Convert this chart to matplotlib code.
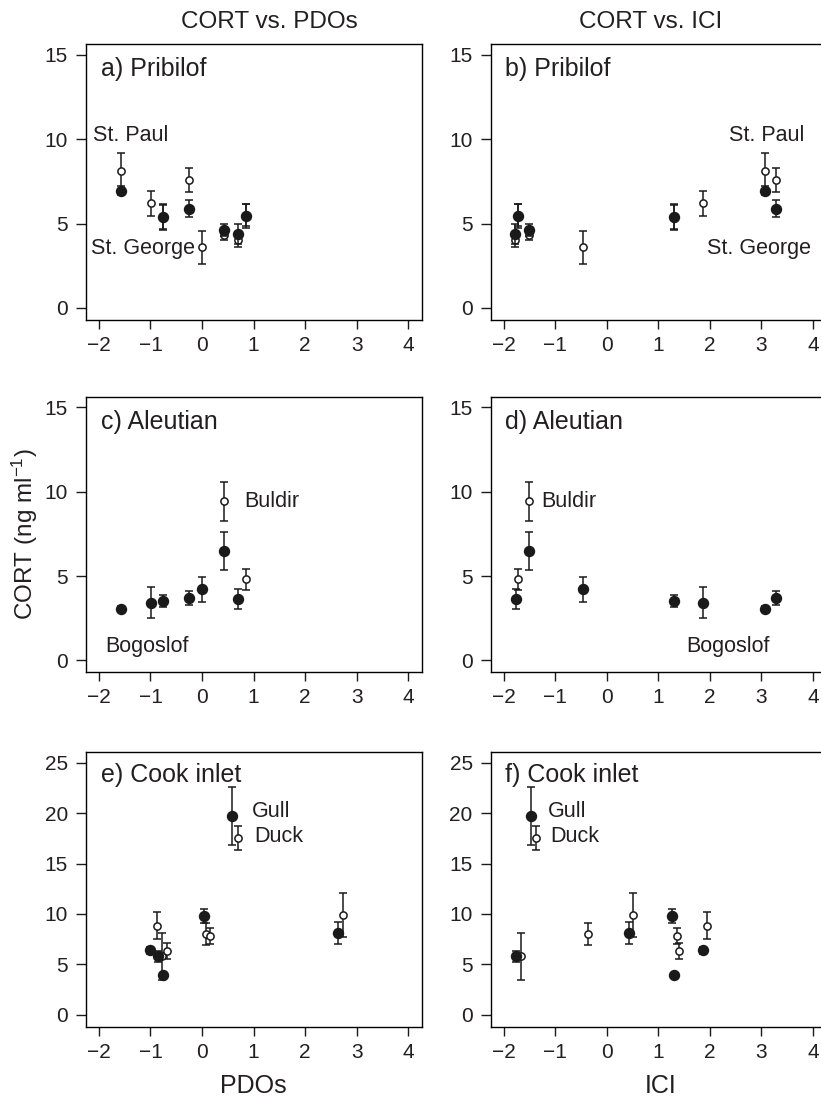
import matplotlib as mpl
mpl.use('Agg')

import matplotlib.pyplot as plt

plt.rcParams['font.family'] = ['Liberation Sans', 'DejaVu Sans']
plt.rcParams['mathtext.default'] = 'regular'
plt.rcParams['axes.linewidth'] = 1.0
plt.rcParams['text.color'] = '#231f20'

# Pribilof: open = St. Paul, filled = St. George
paul_pdo = [-1.58, -0.98, -0.765, -0.25, 0.0, 0.43, 0.69, 0.845]
paul_ici = [3.08, 1.86, 1.31, 3.29, -0.45, -1.5, -1.77, -1.72]
paul_cort = [8.13, 6.2, 5.35, 7.58, 3.6, 4.31, 4.04, 5.5]
paul_se = [1.06, 0.75, 0.75, 0.74, 0.98, 0.3, 0.45, 0.65]

george_pdo = [-1.58, -0.765, -0.25, 0.43, 0.69, 0.845]
george_ici = [3.08, 1.31, 3.29, -1.5, -1.77, -1.72]
george_cort = [6.95, 5.41, 5.89, 4.63, 4.39, 5.45]
george_se = [0.27, 0.73, 0.53, 0.37, 0.6, 0.71]

# Aleutian: open = Buldir, filled = Bogoslof
buldir_pdo = [0.43, 0.845]
buldir_ici = [-1.5, -1.72]
buldir_cort = [9.43, 4.82]
buldir_se = [1.15, 0.62]

bogo_pdo = [-1.58, -0.98, -0.765, -0.25, 0.0, 0.43, 0.69]
bogo_ici = [3.08, 1.86, 1.31, 3.29, -0.46, -1.5, -1.76]
bogo_cort = [3.07, 3.43, 3.52, 3.72, 4.21, 6.48, 3.62]
bogo_se = [0.15, 0.9, 0.37, 0.42, 0.74, 1.13, 0.6]

# Cook inlet: open = Duck, filled = Gull
duck_pdo = [-0.88, -0.77, -0.67, 0.07, 0.15, 0.69, 2.73]
duck_ici = [1.95, -1.66, 1.41, -0.37, 1.37, -1.37, 0.52]
duck_cort = [8.85, 5.8, 6.32, 8.03, 7.8, 17.5, 9.87]
duck_se = [1.3, 2.3, 0.78, 1.07, 0.77, 1.2, 2.2]

gull_pdo = [-1.0, -0.86, -0.765, 0.04, 0.59, 2.63]
gull_ici = [1.86, -1.76, 1.31, 1.27, -1.47, 0.43]
gull_cort = [6.38, 5.82, 3.91, 9.84, 19.74, 8.13]
gull_se = [0.35, 0.55, 0.2, 0.7, 2.9, 1.08]

fig = plt.figure(figsize=(8.21, 10.98), dpi=100)

lefts = [0.1048, 0.5977]
rows = [(0.7086, 0.2514), (0.3877, 0.2510), (0.0649, 0.2502)]


def panel(ax, title, ox, oy, oe, fx, fy, fe, ymax, labels, ty=0.882):
	ax.errorbar(ox, oy, yerr=oe, fmt='o', ms=5.2, mfc='white', mec='#1a1a1a',
		mew=1.1, ecolor='#1a1a1a', elinewidth=1.1, capsize=3.2, capthick=1.1, zorder=2)
	ax.errorbar(fx, fy, yerr=fe, fmt='o', ms=7.2, mfc='#1a1a1a', mec='#1a1a1a',
		ecolor='#1a1a1a', elinewidth=1.1, capsize=3.2, capthick=1.1, zorder=3)
	ax.set_xlim(-2.25, 4.27)
	pad = ymax / 15.0
	ax.set_ylim(-0.71 * pad, ymax + 0.64 * pad)
	ax.set_xticks([-2, -1, 0, 1, 2, 3, 4])
	ax.set_xticklabels(['\u22122', '\u22121', '0', '1', '2', '3', '4'])
	ax.set_yticks(range(0, ymax + 1, 5))
	ax.tick_params(direction='out', width=1.0, labelsize=15,
		colors='#1a1a1a', labelcolor='#231f20')
	ax.tick_params(axis='x', length=6.5, pad=5)
	ax.tick_params(axis='y', length=7, pad=6)
	ax.text(0.044, ty, title, transform=ax.transAxes, fontsize=18,
		ha='left', va='baseline')
	for txt, x, y in labels:
		ax.text(x, y, txt, fontsize=15.5, ha='left', va='center')


ax = fig.add_axes([lefts[0], rows[0][0], 0.4093, rows[0][1]])
panel(ax, 'a) Pribilof', paul_pdo, paul_cort, paul_se, george_pdo, george_cort, george_se, 15,
	[('St. Paul', -2.11, 10.24), ('St. George', -2.16, 3.54)])
ax = fig.add_axes([lefts[1], rows[0][0], 0.4093, rows[0][1]])
panel(ax, 'b) Pribilof', paul_ici, paul_cort, paul_se, george_ici, george_cort, george_se, 15,
	[('St. Paul', 2.37, 10.24), ('St. George', 1.94, 3.54)])

ax = fig.add_axes([lefts[0], rows[1][0], 0.4093, rows[1][1]])
panel(ax, 'c) Aleutian', buldir_pdo, buldir_cort, buldir_se, bogo_pdo, bogo_cort, bogo_se, 15,
	[('Buldir', 0.82, 9.4), ('Bogoslof', -1.87, 0.83)])
ax = fig.add_axes([lefts[1], rows[1][0], 0.4093, rows[1][1]])
panel(ax, 'd) Aleutian', buldir_ici, buldir_cort, buldir_se, bogo_ici, bogo_cort, bogo_se, 15,
	[('Buldir', -1.26, 9.43), ('Bogoslof', 1.55, 0.83)])

ax = fig.add_axes([lefts[0], rows[2][0], 0.4093, rows[2][1]])
panel(ax, 'e) Cook inlet', duck_pdo, duck_cort, duck_se, gull_pdo, gull_cort, gull_se, 25,
	[('Gull', 0.97, 20.13), ('Duck', 1.01, 17.73)], ty=0.892)
ax = fig.add_axes([lefts[1], rows[2][0], 0.4093, rows[2][1]])
panel(ax, 'f) Cook inlet', duck_ici, duck_cort, duck_se, gull_ici, gull_cort, gull_se, 25,
	[('Gull', -1.15, 20.13), ('Duck', -1.10, 17.73)], ty=0.892)

fig.text(0.328, 0.9742, 'CORT vs. PDOs', fontsize=17.5, ha='center', va='baseline')
fig.text(0.792, 0.9742, 'CORT vs. ICI', fontsize=17.5, ha='center', va='baseline')
fig.text(0.308, 0.0046, 'PDOs', fontsize=18, ha='center', va='baseline')
fig.text(0.805, 0.0046, 'ICI', fontsize=18, ha='center', va='baseline')
fig.text(0.030, 0.513, 'CORT (ng ml$^{\u22121}$)', fontsize=17.5, ha='center', va='center',
	rotation=90)

plt.savefig('out.png', dpi=100)
plt.close()
